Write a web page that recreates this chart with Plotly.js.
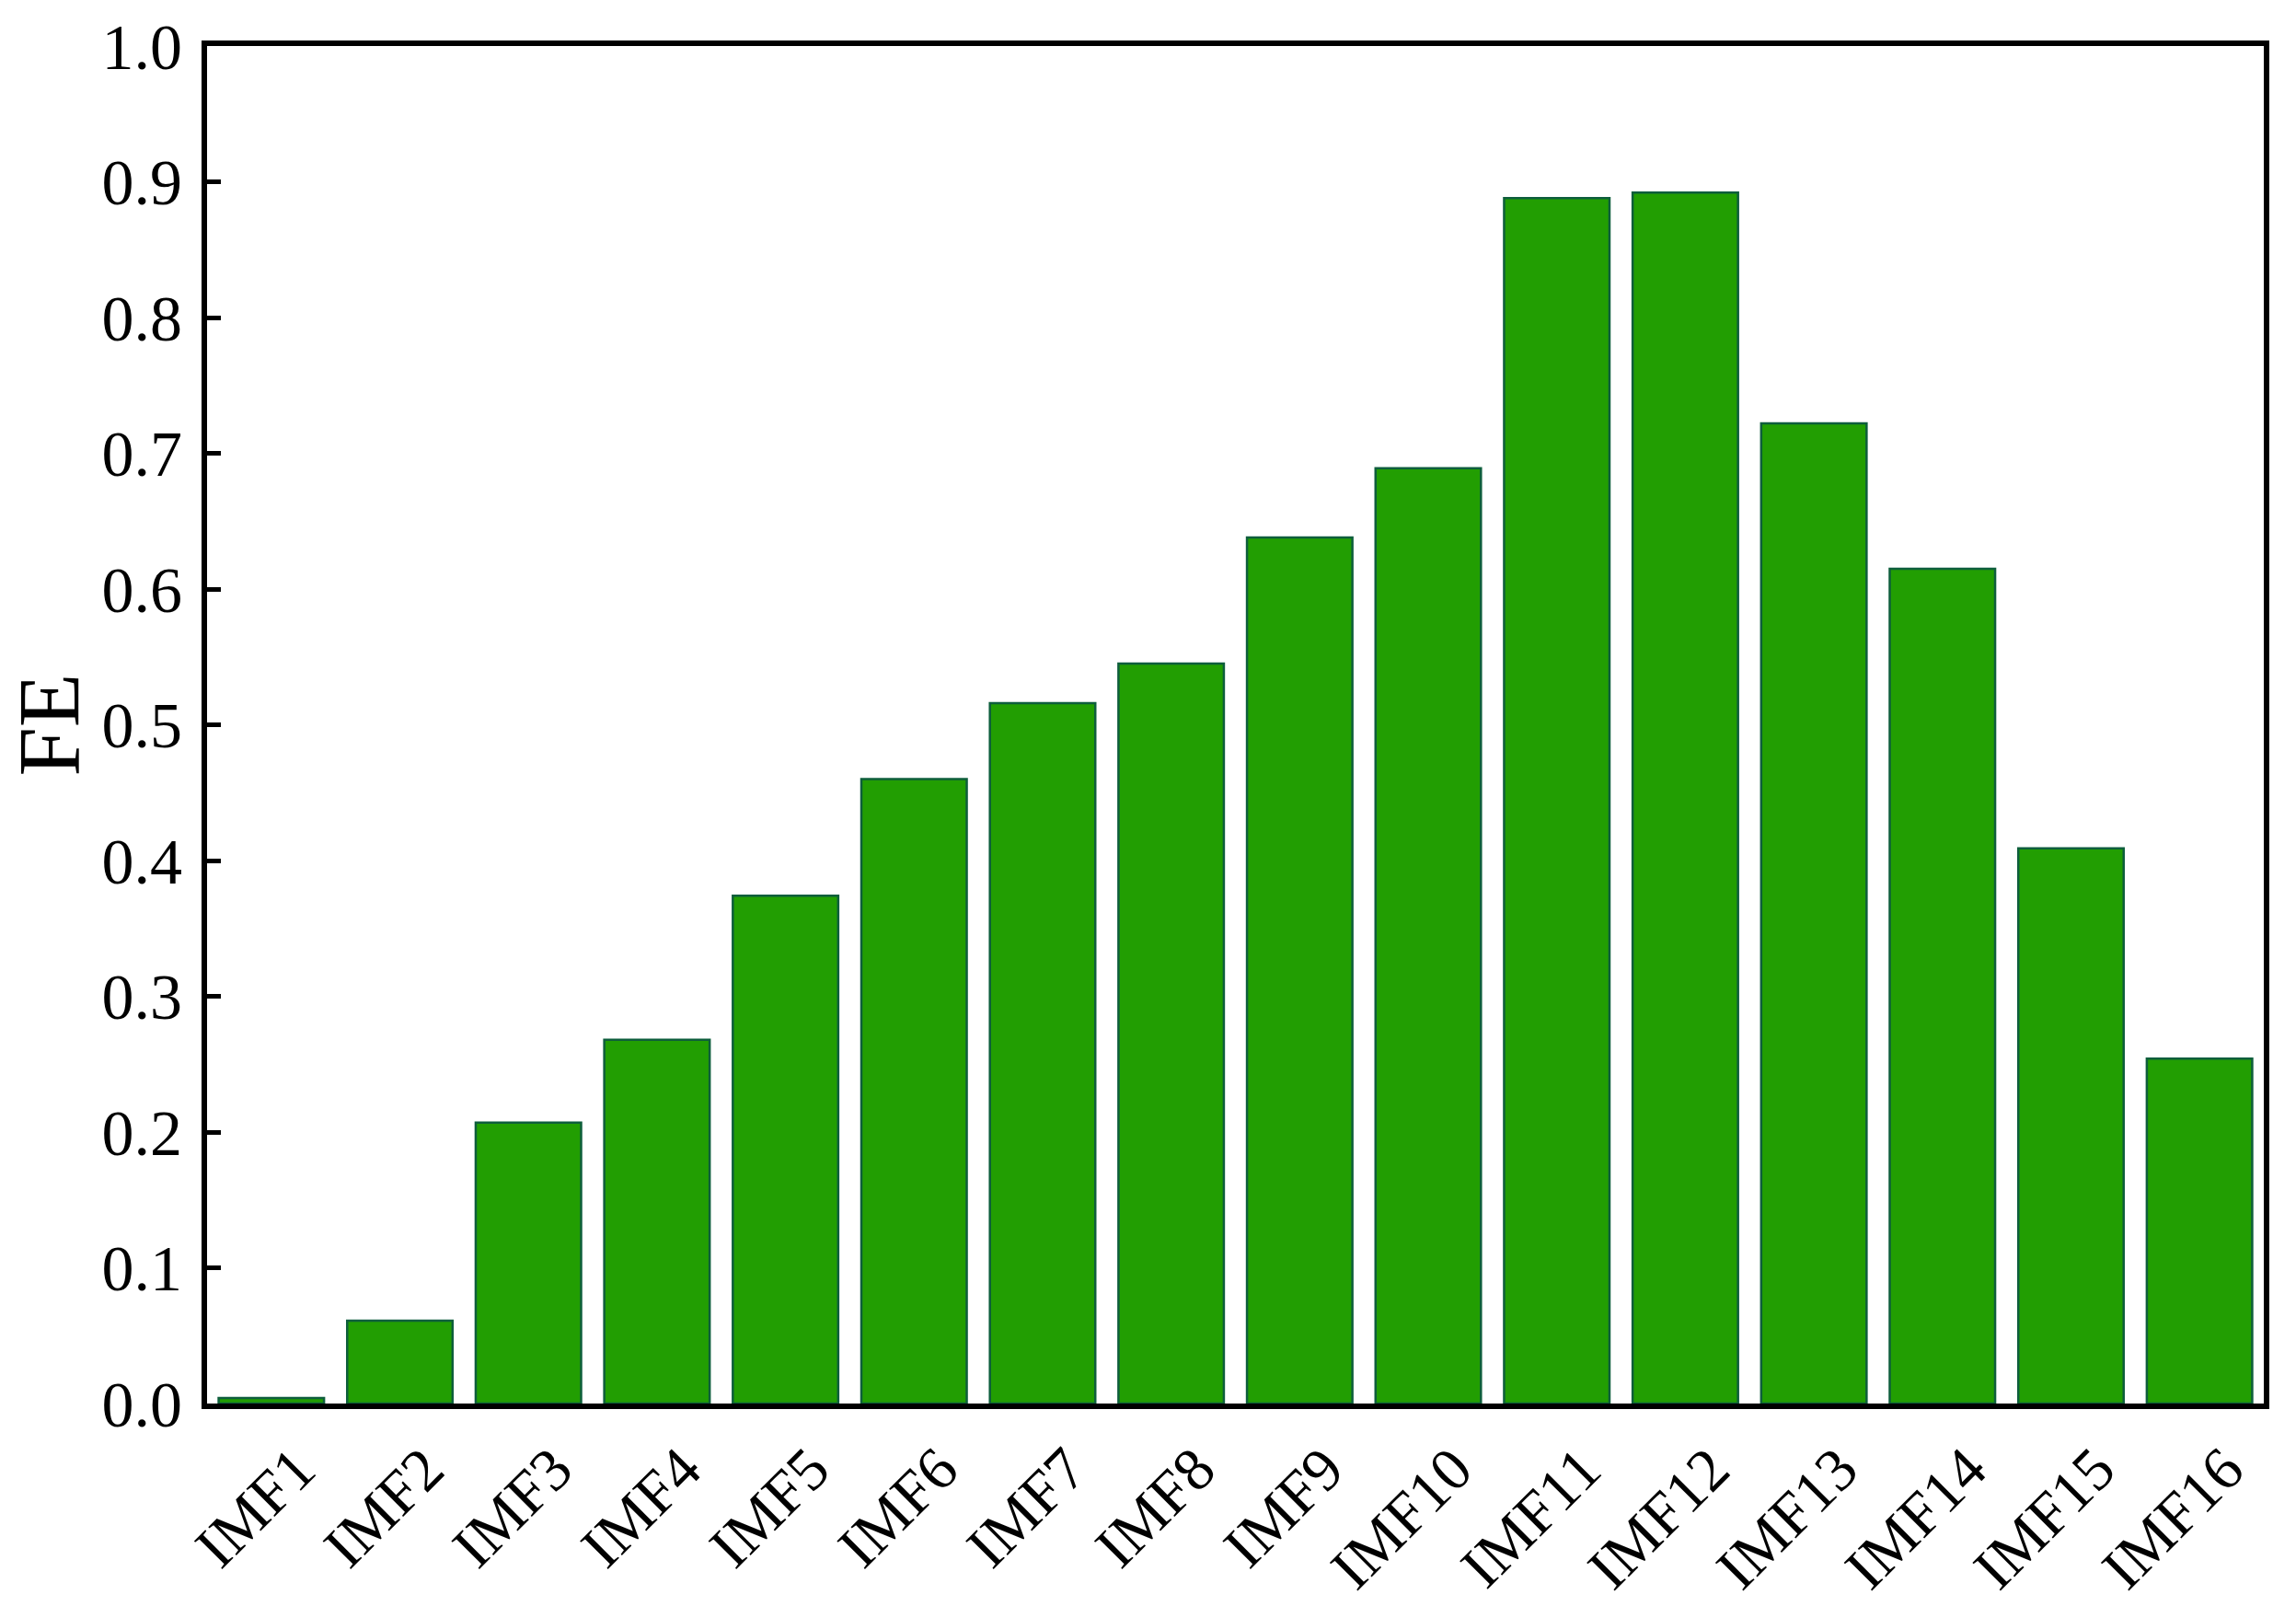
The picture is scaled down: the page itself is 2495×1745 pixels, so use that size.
<!DOCTYPE html>
<html>
<head>
<meta charset="utf-8">
<script src="https://cdn.plot.ly/plotly-3.0.1.min.js"></script>
<style>
  html, body { margin: 0; padding: 0; background: #fff; }
  #chart { width: 2495px; height: 1745px; }
</style>
</head>
<body>
<div id="chart"></div>
<script>
// categories and FE values
const imfNames = ['IMF1', 'IMF2', 'IMF3', 'IMF4', 'IMF5', 'IMF6', 'IMF7', 'IMF8',
                  'IMF9', 'IMF10', 'IMF11', 'IMF12', 'IMF13', 'IMF14', 'IMF15', 'IMF16'];
const feValues = [0.004, 0.061, 0.207, 0.268, 0.374, 0.460, 0.516, 0.545,
                  0.638, 0.689, 0.888, 0.892, 0.722, 0.615, 0.409, 0.254];
const yTicks = [0, 0.1, 0.2, 0.3, 0.4, 0.5, 0.6, 0.7, 0.8, 0.9, 1.0];

const serif = 'Liberation Serif, Times New Roman, serif';

let trace = {
  type: 'bar',
  x: imfNames,
  y: feValues,
  marker: {
    color: '#229e02',
    line: { color: '#0e5e3c', width: 2.5 }
  },
  hoverinfo: 'skip'
};

let layout = {
  width: 2495,
  height: 1745,
  margin: { l: 225, r: 35, t: 50, b: 220 },
  paper_bgcolor: '#ffffff',
  plot_bgcolor: '#ffffff',
  showlegend: false,
  bargap: 0.18,
  font: { family: serif, color: '#000' },
  xaxis: {
    type: 'category',
    range: [-0.5, 15.5],
    showline: true,
    linecolor: '#000',
    linewidth: 6,
    mirror: true,
    ticks: '',
    showgrid: false,
    zeroline: false,
    tickangle: -45,
    ticklabelshift: 28,
    ticklabelstandoff: 0,
    tickfont: { family: serif, size: 66, color: '#000' }
  },
  yaxis: {
    range: [0, 1.0],
    tickvals: yTicks,
    ticktext: yTicks.map(v => v.toFixed(1)),
    showline: true,
    linecolor: '#000',
    linewidth: 6,
    mirror: true,
    ticks: 'inside',
    ticklen: 15,
    tickwidth: 5,
    tickcolor: '#000',
    showgrid: false,
    zeroline: false,
    ticklabelstandoff: 7,
    tickfont: { family: serif, size: 70, color: '#000' },
    title: { text: 'FE', font: { family: serif, size: 96, color: '#000' }, standoff: 22 }
  }
};

Plotly.newPlot('chart', [trace], layout, { displayModeBar: false, staticPlot: true });
</script>
</body>
</html>
